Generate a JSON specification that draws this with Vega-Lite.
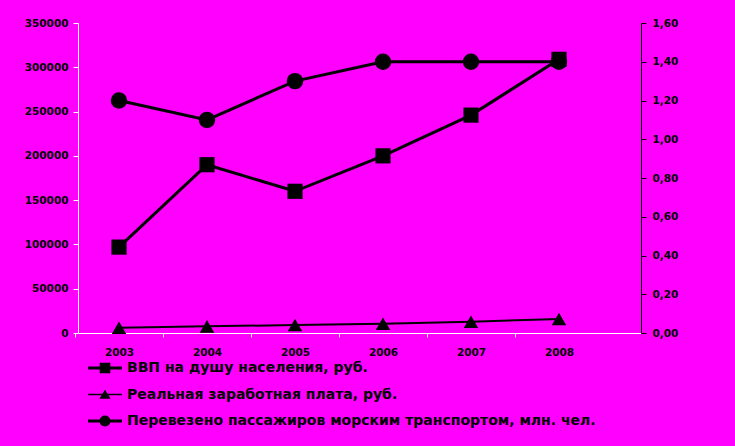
{
  "$schema": "https://vega.github.io/schema/vega-lite/v6.json",
  "width": 563,
  "height": 310,
  "autosize": {"type": "none"},
  "padding": {"left": 78, "top": 23, "right": 94, "bottom": 113},
  "background": "#FF00FF",
  "config": {
    "view": {"stroke": null},
    "font": "DejaVu Sans",
    "axis": {"labelFont": "DejaVu Sans", "labelFontWeight": "bold", "labelFontSize": 10.5, "labelColor": "black", "grid": false, "title": null}
  },
  "data": {
    "values": [
      {"year": 2003, "series": "ВВП на душу населения, руб.", "value": 97000},
      {"year": 2004, "series": "ВВП на душу населения, руб.", "value": 190000},
      {"year": 2005, "series": "ВВП на душу населения, руб.", "value": 160000},
      {"year": 2006, "series": "ВВП на душу населения, руб.", "value": 200000},
      {"year": 2007, "series": "ВВП на душу населения, руб.", "value": 246000},
      {"year": 2008, "series": "ВВП на душу населения, руб.", "value": 309000},
      {"year": 2003, "series": "Реальная заработная плата, руб.", "value": 6000},
      {"year": 2004, "series": "Реальная заработная плата, руб.", "value": 7500},
      {"year": 2005, "series": "Реальная заработная плата, руб.", "value": 9000},
      {"year": 2006, "series": "Реальная заработная плата, руб.", "value": 10500},
      {"year": 2007, "series": "Реальная заработная плата, руб.", "value": 12800},
      {"year": 2008, "series": "Реальная заработная плата, руб.", "value": 15800},
      {"year": 2003, "series": "Перевезено пассажиров морским транспортом, млн. чел.", "value": 1.2},
      {"year": 2004, "series": "Перевезено пассажиров морским транспортом, млн. чел.", "value": 1.1},
      {"year": 2005, "series": "Перевезено пассажиров морским транспортом, млн. чел.", "value": 1.3},
      {"year": 2006, "series": "Перевезено пассажиров морским транспортом, млн. чел.", "value": 1.4},
      {"year": 2007, "series": "Перевезено пассажиров морским транспортом, млн. чел.", "value": 1.4},
      {"year": 2008, "series": "Перевезено пассажиров морским транспортом, млн. чел.", "value": 1.4}
    ]
  },
  "encoding": {
    "x": {
      "field": "year", "type": "quantitative",
      "scale": {"domain": [2002.534, 2008.932], "nice": false, "zero": false},
      "axis": {"orient": "bottom", "values": [2003, 2004, 2005, 2006, 2007, 2008], "format": "d", "domainColor": "white", "tickColor": "white", "tickSize": 4, "tickOffset": -44, "labelOffset": 44, "labelPadding": 10}
    }
  },
  "layer": [
    {
      "encoding": {
        "y": {
          "field": "value", "type": "quantitative",
          "scale": {"domain": [0, 1.6], "nice": false},
          "axis": {"orient": "right", "values": [0, 0.2, 0.4, 0.6, 0.8, 1, 1.2, 1.4, 1.6], "labelExpr": "replace(format(datum.value, '.2f'), '.', ',')", "domainColor": "black", "tickColor": "black", "tickSize": 5, "labelPadding": 6}
        }
      },
      "transform": [{"filter": "datum.series === 'Перевезено пассажиров морским транспортом, млн. чел.'"}],
      "layer": [
        {"mark": {"type": "line", "color": "black", "strokeWidth": 3}},
        {"mark": {"type": "point", "shape": "circle", "filled": true, "color": "black", "opacity": 1, "size": 270}}
      ]
    },
    {
      "encoding": {
        "y": {
          "field": "value", "type": "quantitative",
          "scale": {"domain": [0, 350000], "nice": false},
          "axis": {"orient": "left", "values": [0, 50000, 100000, 150000, 200000, 250000, 300000, 350000], "format": "d", "domainColor": "white", "tickColor": "white", "tickSize": 5, "labelPadding": 5}
        }
      },
      "layer": [
        {
          "transform": [{"filter": "datum.series === 'Реальная заработная плата, руб.'"}],
          "layer": [
            {"mark": {"type": "line", "color": "black", "strokeWidth": 2}},
            {"mark": {"type": "point", "shape": "triangle-up", "filled": true, "color": "black", "opacity": 1, "size": 210}}
          ]
        },
        {
          "transform": [{"filter": "datum.series === 'ВВП на душу населения, руб.'"}],
          "layer": [
            {"mark": {"type": "line", "color": "black", "strokeWidth": 3}},
            {"mark": {"type": "point", "shape": "square", "filled": true, "color": "black", "opacity": 1, "size": 230}}
          ]
        },
        {
          "mark": {"type": "point", "filled": true, "color": "black", "opacity": 0, "size": 128},
          "encoding": {
            "shape": {
              "field": "series", "type": "nominal",
              "scale": {
                "domain": ["ВВП на душу населения, руб.", "Реальная заработная плата, руб.", "Перевезено пассажиров морским транспортом, млн. чел."],
                "range": [
                  "M-3,-0.26H3V0.26H-3ZM-0.94,-0.94H0.94V0.94H-0.94Z",
                  "M-3,-0.12H3V0.12H-3ZM0,-0.85L1,0.75H-1Z",
                  "M-3,-0.26H3V0.26H-3ZM-0.97,0A0.97,0.97 0 1,1 0.97,0A0.97,0.97 0 1,1 -0.97,0Z"
                ]
              },
              "legend": {
                "orient": "none", "legendX": 20, "legendY": 338, "title": null, "direction": "vertical",
                "symbolSize": 128, "symbolOpacity": 1, "symbolFillColor": "black", "symbolStrokeColor": "black", "symbolStrokeWidth": 0,
                "labelFont": "DejaVu Sans", "labelFontWeight": "bold", "labelFontSize": 14, "labelColor": "black", "labelLimit": 600,
                "rowPadding": 12.5, "labelOffset": 15
              }
            }
          }
        }
      ]
    }
  ],
  "resolve": {"scale": {"y": "independent"}}
}
